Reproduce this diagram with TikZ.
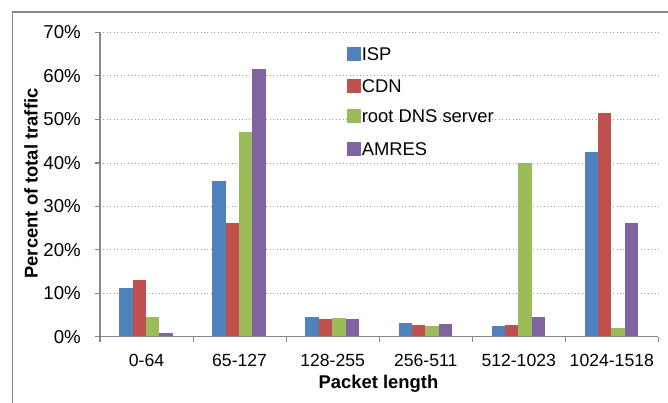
\documentclass[tikz,border=0pt]{standalone}
\usepackage{fontspec}
\setmainfont{Liberation Sans}
\definecolor{ispblue}{RGB}{79,129,189}
\definecolor{cdnred}{RGB}{192,80,77}
\definecolor{dnsgreen}{RGB}{155,187,89}
\definecolor{amrespurple}{RGB}{128,100,162}
\definecolor{axisgray}{RGB}{134,134,134}
\definecolor{gridgray}{RGB}{160,160,160}
\tikzset{
  isp bar/.style={fill=ispblue, draw=none},
  cdn bar/.style={fill=cdnred, draw=none},
  dns bar/.style={fill=dnsgreen, draw=none},
  amres bar/.style={fill=amrespurple, draw=none},
  grid line/.style={gridgray, line width=0.6, dotted},
  axis line/.style={axisgray, line width=0.9},
  tick label/.style={anchor=east, inner sep=0.75pt, font=\fontsize{14}{16}\selectfont},
  cat label/.style={anchor=center, inner sep=0.75pt, font=\fontsize{13.2}{15}\selectfont},
  axis title/.style={inner sep=0.75pt, font=\fontsize{13.8}{16}\selectfont\bfseries},
  key box/.style={minimum size=10.5, inner sep=0pt, draw=none},
  key label/.style={anchor=west, inner sep=0.75pt, font=\fontsize{13.8}{16}\selectfont}
}
\begin{document}
\begin{tikzpicture}[x=0.75pt,y=0.75pt,yscale=-1,xscale=1]
\useasboundingbox (0,0) rectangle (668,403);

%Frame
\draw [color=axisgray, line width=1.4] (12.5,405) -- (12.5,12) -- (670,12) ;

%Grid lines
\draw [grid line] (100,293.2) -- (658.3,293.2) ;
\draw [grid line] (100,249.8) -- (658.3,249.8) ;
\draw [grid line] (100,206.3) -- (658.3,206.3) ;
\draw [grid line] (100,162.9) -- (658.3,162.9) ;
\draw [grid line] (100,119.4) -- (658.3,119.4) ;
\draw [grid line] (100,75.9) -- (658.3,75.9) ;
\draw [grid line] (100,32.5) -- (658.3,32.5) ;

%Bars 0-64
\fill [isp bar] (119.3,336.7) rectangle (132.7,288.3) ;
\fill [cdn bar] (132.7,336.7) rectangle (146.0,280.3) ;
\fill [dns bar] (146.0,336.7) rectangle (159.4,317.3) ;
\fill [amres bar] (159.4,336.7) rectangle (172.7,332.7) ;
%Bars 65-127
\fill [isp bar] (212.4,336.7) rectangle (225.7,180.7) ;
\fill [cdn bar] (225.7,336.7) rectangle (239.1,222.7) ;
\fill [dns bar] (239.1,336.7) rectangle (252.4,132.0) ;
\fill [amres bar] (252.4,336.7) rectangle (265.8,69.0) ;
%Bars 128-255
\fill [isp bar] (305.4,336.7) rectangle (318.8,316.7) ;
\fill [cdn bar] (318.8,336.7) rectangle (332.1,319.0) ;
\fill [dns bar] (332.1,336.7) rectangle (345.5,318.3) ;
\fill [amres bar] (345.5,336.7) rectangle (358.8,319.3) ;
%Bars 256-511
\fill [isp bar] (398.5,336.7) rectangle (411.8,323.0) ;
\fill [cdn bar] (411.8,336.7) rectangle (425.2,324.7) ;
\fill [dns bar] (425.2,336.7) rectangle (438.5,326.3) ;
\fill [amres bar] (438.5,336.7) rectangle (451.9,323.7) ;
%Bars 512-1023
\fill [isp bar] (491.5,336.7) rectangle (504.9,326.3) ;
\fill [cdn bar] (504.9,336.7) rectangle (518.2,324.7) ;
\fill [dns bar] (518.2,336.7) rectangle (531.6,162.7) ;
\fill [amres bar] (531.6,336.7) rectangle (544.9,316.7) ;
%Bars 1024-1518
\fill [isp bar] (584.6,336.7) rectangle (597.9,151.7) ;
\fill [cdn bar] (597.9,336.7) rectangle (611.3,113.3) ;
\fill [dns bar] (611.3,336.7) rectangle (624.6,328.0) ;
\fill [amres bar] (624.6,336.7) rectangle (638.0,223.3) ;

%Axes
\draw [axis line] (100,32.5) -- (100,336.7) -- (658.3,336.7) ;
%Ticks on the value axis
\draw [axis line] (95,336.7) -- (100,336.7) ;
\draw [axis line] (95,293.2) -- (100,293.2) ;
\draw [axis line] (95,249.8) -- (100,249.8) ;
\draw [axis line] (95,206.3) -- (100,206.3) ;
\draw [axis line] (95,162.9) -- (100,162.9) ;
\draw [axis line] (95,119.4) -- (100,119.4) ;
\draw [axis line] (95,75.9) -- (100,75.9) ;
\draw [axis line] (95,32.5) -- (100,32.5) ;
%Ticks on the category axis
\draw [axis line] (100,336.7) -- (100,342.3) ;
\draw [axis line] (193.1,336.7) -- (193.1,342.3) ;
\draw [axis line] (286.1,336.7) -- (286.1,342.3) ;
\draw [axis line] (379.2,336.7) -- (379.2,342.3) ;
\draw [axis line] (472.2,336.7) -- (472.2,342.3) ;
\draw [axis line] (565.3,336.7) -- (565.3,342.3) ;
\draw [axis line] (658.3,336.7) -- (658.3,342.3) ;

% Text Node
\node (pct0) [tick label] at (82,336.7) {0\%};
\node (pct10) [tick label] at (82,293.2) {10\%};
\node (pct20) [tick label] at (82,249.8) {20\%};
\node (pct30) [tick label] at (82,206.3) {30\%};
\node (pct40) [tick label] at (82,162.9) {40\%};
\node (pct50) [tick label] at (82,119.4) {50\%};
\node (pct60) [tick label] at (82,75.9) {60\%};
\node (pct70) [tick label] at (82,32.5) {70\%};

% Text Node
\node (len1) [cat label] at (146.5,360) {0-64};
\node (len2) [cat label] at (239.6,360) {65-127};
\node (len3) [cat label] at (332.6,360) {128-255};
\node (len4) [cat label] at (425.7,360) {256-511};
\node (len5) [cat label] at (518.7,360) {512-1023};
\node (len6) [cat label] at (611.8,360) {1024-1518};

% Text Node
\node (xtitle) [axis title] at (378.5,384) {Packet length};
\node (ytitle) [axis title, rotate=90] at (31,183.5) {Percent of total traffic};

%Legend
\node (keyisp) [key box, fill=ispblue] at (353.5,54) {};
\node (keycdn) [key box, fill=cdnred] at (353.5,86.3) {};
\node (keydns) [key box, fill=dnsgreen] at (353.5,116.2) {};
\node (keyamres) [key box, fill=amrespurple] at (353.5,149) {};
\node (lblisp) [key label] at (360.5,54) {ISP};
\node (lblcdn) [key label] at (360.5,86.3) {CDN};
\node (lbldns) [key label] at (360.5,116.2) {root DNS server};
\node (lblamres) [key label] at (360.5,149) {AMRES};

\end{tikzpicture}
\end{document}
